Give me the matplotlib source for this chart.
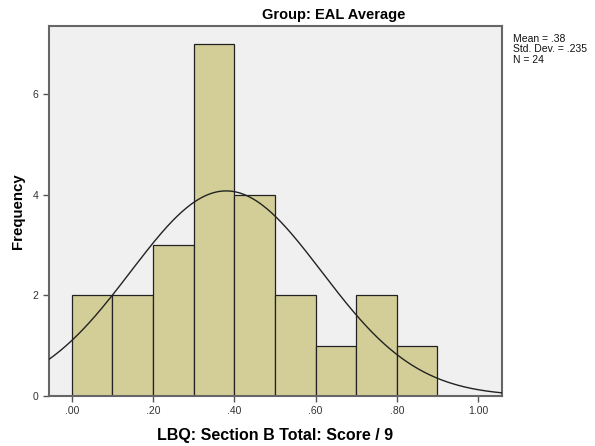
import numpy as np
import matplotlib
matplotlib.use('Agg')
import matplotlib.pyplot as plt

plt.rcParams['font.family'] = ['Liberation Sans', 'DejaVu Sans']

# Histogram data (bin edges and counts)
bin_edges = [0.0, 0.1, 0.2, 0.3, 0.4, 0.5, 0.6, 0.7, 0.8, 0.9]
counts = [2, 2, 3, 7, 4, 2, 1, 2, 1]
mean = 0.38
std_dev = 0.235
n = 24

x_ticks = [0.0, 0.2, 0.4, 0.6, 0.8, 1.0]
x_tick_labels = ['.00', '.20', '.40', '.60', '.80', '1.00']
y_ticks = [0, 2, 4, 6]

fig = plt.figure(figsize=(5.95, 4.46), dpi=100)
ax = fig.add_axes([0.0824, 0.1121, 0.7613, 0.8296])
ax.set_facecolor('#f0f0f0')

lefts = bin_edges[:-1]
widths = np.diff(bin_edges)
ax.bar(lefts, counts, width=widths, align='edge', color='#d3ce98',
       edgecolor='#222222', linewidth=0.9, zorder=2)

# Normal curve scaled to the histogram
xlo, xhi = -0.056, 1.059
xs = np.linspace(xlo, xhi, 400)
bw = 0.1
ys = n * bw / (std_dev * np.sqrt(2 * np.pi)) * np.exp(-0.5 * ((xs - mean) / std_dev) ** 2)
ax.plot(xs, ys, color='#222222', linewidth=1.0, zorder=3)

ax.set_xlim(xlo, xhi)
ax.set_ylim(0, 7.35)
ax.set_xticks(x_ticks)
ax.set_xticklabels(x_tick_labels)
ax.set_yticks(y_ticks)

for s in ax.spines.values():
    s.set_color('#666666')
    s.set_linewidth(1.5)
ax.tick_params(direction='out', length=4, width=1, colors='#555555',
               labelsize=7.5, labelcolor='#333333')
ax.tick_params(axis='x', pad=3)

ax.set_xlabel('LBQ: Section B Total: Score / 9', fontsize=11.5, fontweight='bold', labelpad=9)
fig.text(18 / 595, 1 - 211 / 446, 'Frequency', rotation=90, ha='center', va='center',
         fontsize=10.8, fontweight='bold')

fig.text(334 / 595, 1 - 15 / 446, 'Group: EAL Average', ha='center', va='center',
         fontsize=10.5, fontweight='bold')

fig.text(513 / 595, 1 - 34 / 446,
         'Mean = .38\nStd. Dev. = .235\nN = 24',
         ha='left', va='top', fontsize=7.5, linespacing=1.05, color='#111111')

fig.savefig('out.png', dpi=100)
